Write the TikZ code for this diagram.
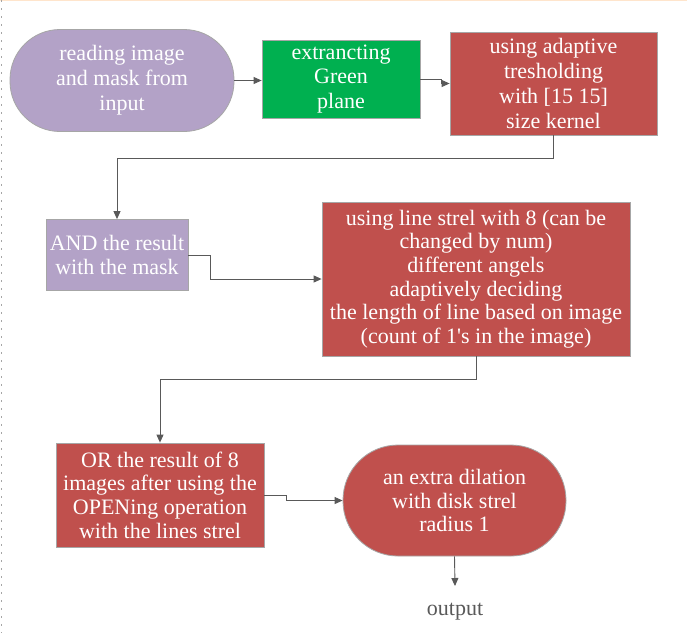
\documentclass[tikz,border=0pt]{standalone}
\usepackage{fontspec}
\setmainfont{Liberation Serif}[Ligatures=TeXOff]
\usetikzlibrary{arrows.meta}
\definecolor{purp}{HTML}{B3A2C7}
\definecolor{grn}{HTML}{00B050}
\definecolor{rd}{HTML}{C0504D}
\definecolor{ln}{HTML}{595959}
\definecolor{edge}{HTML}{A6A6A6}
\tikzset{
  box/.style={rectangle, draw=edge, line width=0.8pt, text=white, align=center, inner sep=0pt,
    font=\fontsize{22}{23.6}\selectfont},
  toprow/.style={font=\fontsize{22}{24.8}\selectfont},
  term/.style={box, rounded corners=#1},
  conn/.style={draw=ln, line width=0.9pt, -{Triangle[length=8pt,width=7pt]}},
}
\begin{document}
\begin{tikzpicture}[x=1pt,y=-1pt]
\useasboundingbox (0,0) rectangle (687,633);
\fill[white] (0,0) rectangle (687,633);
\draw[color=orange!20, line width=1pt] (0,0.5) -- (687,0.5);
\draw[color=gray!70, line width=0.8pt, dash pattern=on 2pt off 6pt] (1,0) -- (1,633);

\node[term=50pt, toprow, fill=purp, minimum width=224pt, minimum height=102pt] (t1) at (122,80.5)
  {reading image\\and mask from\\input};
\node[box, toprow, fill=grn, minimum width=158pt, minimum height=78pt] (g) at (341,79)
  {extrancting\\Green\\plane};
\node[box, toprow, fill=rd, minimum width=207pt, minimum height=103pt] (r1) at (553.5,83.5)
  {using adaptive\\tresholding\\with [15 15]\\size kernel};
\node[box, fill=purp, minimum width=142pt, minimum height=71pt] (and) at (117,255)
  {AND the result\\with the mask};
\node[box, fill=rd, minimum width=308pt, minimum height=154pt] (r2) at (476,279)
  {using line strel with 8 (can be\\changed by num)\\different angels\\adaptively deciding\\the length of line based on image\\(count of 1's in the image)};
\node[box, fill=rd, minimum width=208pt, minimum height=104pt] (or) at (160,495)
  {OR the result of 8\\images after using the\\OPENing operation\\with the lines strel};
\node[term=55pt, fill=rd, minimum width=223pt, minimum height=111pt] (dil) at (454.5,500.5)
  {an extra dilation\\with disk strel\\radius 1};
\node[text=ln, font=\fontsize{22}{24}\selectfont, inner sep=0pt] (out) at (455,612) {output};
\coordinate (outtop) at (455,586);

\draw[conn] (t1.east) -- (t1.east -| g.west);
\draw[conn] (g.east) -- ++(21,0) |- (r1.west);
\draw[conn] (r1.south) -- ++(0,23) -| (and.north);
\draw[conn] (and.east) -- ++(22,0) |- (r2.west);
\draw[conn] (r2.south) -- ++(0,23) -| (or.north);
\draw[conn] (or.east) -- ++(22,0) |- (dil.west);
\draw[conn] (dil.south) -- (outtop);
\end{tikzpicture}
\end{document}
